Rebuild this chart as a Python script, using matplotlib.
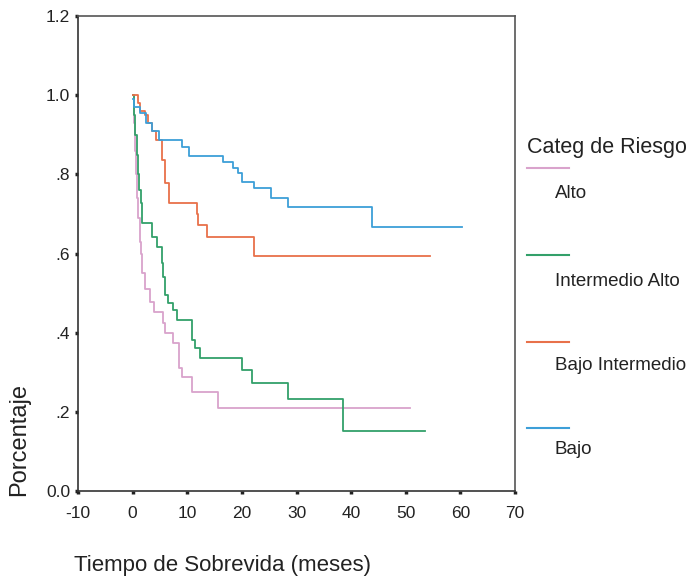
import matplotlib
matplotlib.use("Agg")
import matplotlib.pyplot as plt
from matplotlib.lines import Line2D

plt.rcParams['font.family'] = ['Liberation Sans', 'DejaVu Sans']
plt.rcParams['axes.unicode_minus'] = False

# Kaplan-Meier steps (time in months, survival after step)
alto_t = [0, 0.2, 0.4, 0.6, 0.8, 1.0, 1.3, 1.6, 1.8, 2.2, 3.1, 4.0, 5.5, 5.9, 7.3, 8.5, 9.1, 10.8, 15.7, 50.7]
alto_s = [1.0, 0.93, 0.86, 0.80, 0.74, 0.69, 0.63, 0.60, 0.55, 0.51, 0.477, 0.452, 0.424, 0.399, 0.374, 0.311, 0.288, 0.25, 0.21, 0.21]

interm_alto_t = [0, 0.2, 0.5, 0.8, 1.0, 1.2, 1.5, 1.8, 3.5, 4.5, 5.3, 5.6, 6.0, 6.4, 7.3, 8.2, 10.8, 11.4, 12.3, 20.0, 21.8, 28.4, 38.5, 53.5]
interm_alto_s = [1.0, 0.95, 0.90, 0.85, 0.80, 0.76, 0.727, 0.677, 0.641, 0.616, 0.576, 0.54, 0.495, 0.475, 0.457, 0.432, 0.381, 0.361, 0.336, 0.306, 0.273, 0.232, 0.152, 0.152]

bajo_interm_t = [0, 1.0, 1.3, 2.2, 2.8, 3.5, 4.3, 5.3, 6.0, 6.6, 11.7, 12.0, 13.7, 22.3, 54.4]
bajo_interm_s = [1.0, 0.98, 0.96, 0.95, 0.93, 0.91, 0.886, 0.836, 0.778, 0.727, 0.70, 0.672, 0.641, 0.593, 0.593]

bajo_t = [0, 0.3, 1.3, 2.5, 3.5, 4.8, 9.0, 10.4, 16.5, 18.3, 19.2, 20.1, 22.2, 25.3, 28.4, 43.8, 60.3]
bajo_s = [0.99, 0.97, 0.955, 0.93, 0.91, 0.886, 0.869, 0.846, 0.831, 0.816, 0.803, 0.78, 0.765, 0.74, 0.717, 0.667, 0.667]

labels = ['Alto', 'Intermedio Alto', 'Bajo Intermedio', 'Bajo']
colors = ['#d9a3cc', '#33a06a', '#e8714a', '#3d9fd8']
series = [(alto_t, alto_s), (interm_alto_t, interm_alto_s),
          (bajo_interm_t, bajo_interm_s), (bajo_t, bajo_s)]

fig = plt.figure(figsize=(6.91, 5.79), dpi=100)
ax = fig.add_axes([78/691, 1-491/579, (515-78)/691, (491-16)/579])

for (t, s), c in zip(series, colors):
    ax.step(t, s, where='post', color=c, lw=1.3)

ax.set_xlim(-10, 70)
ax.set_ylim(0, 1.2)
ax.set_xticks(range(-10, 71, 10))
ax.set_yticks([0, 0.2, 0.4, 0.6, 0.8, 1.0, 1.2])
ax.set_yticklabels(['0.0', '.2', '.4', '.6', '.8', '1.0', '1.2'])
ax.tick_params(length=2.5, width=2.5, labelsize=12.5, color='#222222', labelcolor='#222222')
ax.tick_params(axis='x', pad=8)
ax.tick_params(axis='y', pad=3)
for sp in ax.spines.values():
    sp.set_color('#555555')
    sp.set_linewidth(1.2)
ax.spines['left'].set_color('#333333')
ax.spines['bottom'].set_color('#333333')

fig.text(19.5/691, 1-440/579, 'Porcentaje', rotation=90, va='center', ha='center', fontsize=17, color='#222222')
fig.text(74/691, 1-565/579, 'Tiempo de Sobrevida (meses)', va='center', ha='left', fontsize=16, color='#222222')

# legend drawn by hand to mimic the SPSS layout
fig.text(527/691, 1-148/579, 'Categ de Riesgo', va='center', ha='left', fontsize=15.5, color='#222222')
line_y = [168, 255, 342, 428]
text_y = [194, 282, 365, 450]
for lab, c, ly, ty in zip(labels, colors, line_y, text_y):
    fig.add_artist(Line2D([527/691, 569/691], [1-ly/579, 1-ly/579], color=c, lw=1.5))
    fig.text(555/691, 1-ty/579, lab, va='center', ha='left', fontsize=13.5, color='#222222')

fig.savefig('out.png', dpi=100)
